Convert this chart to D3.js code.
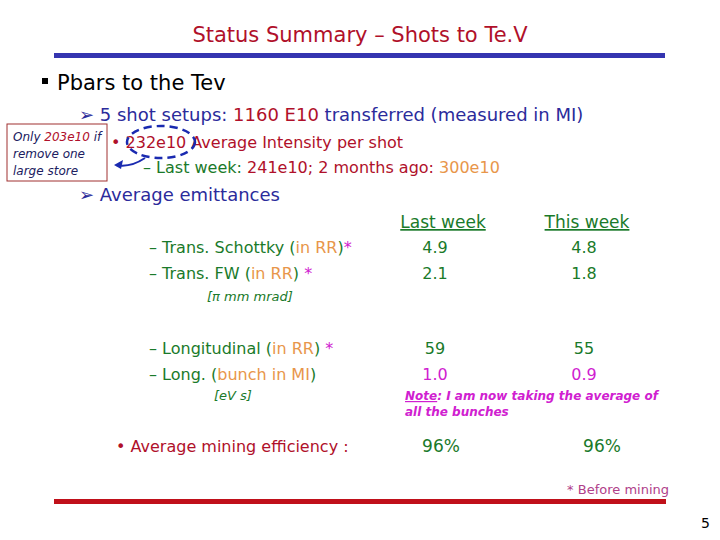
<!DOCTYPE html>
<html><head><meta charset="utf-8">
<script src="https://d3js.org/d3.v7.min.js"></script>
<style>body{margin:0;background:#fff}</style></head>
<body><svg id="s" width="720" height="540"></svg>
<script>
const title = "Status Summary – Shots to Te.V";
const columns = ["Last week", "This week"];
const rowLabels = ["Trans. Schottky", "Trans. FW", "Longitudinal", "Long."];
const lastWeek = ["4.9", "2.1", "59", "1.0"];
const thisWeek = ["4.8", "1.8", "55", "0.9"];
const efficiency = ["96%", "96%"];

const svg = d3.select("#s");
const F = "'DejaVu Sans', sans-serif";
const DB = "#2b2b9b", RED = "#b0102a", GRN = "#1a7a2a", ORG = "#e8964a", MAG = "#d020d0";
function t(x, y, parts, size, opts = {}) {
  const el = svg.append("text").attr("x", x).attr("y", y).attr("font-family", F)
    .attr("font-size", size).attr("font-style", opts.italic ? "italic" : null)
    .attr("font-weight", opts.bold ? "bold" : null).attr("text-anchor", opts.anchor || "start");
  parts.forEach(([s, c, u]) => el.append("tspan").text(s).attr("fill", c).attr("text-decoration", u ? "underline" : null));
  return el;
}
t(360, 42, [[title, RED]], 21, {anchor: "middle"});
svg.append("rect").attr("x", 54).attr("y", 53).attr("width", 611).attr("height", 5).attr("fill", "#3535b0");
svg.append("rect").attr("x", 42).attr("y", 78).attr("width", 6).attr("height", 6).attr("fill", "#000");
t(57, 90, [["Pbars to the Tev", "#000"]], 21);
t(79, 121, [["➢ 5 shot setups: ", DB], ["1160 E10", RED], [" transferred (measured in MI)", DB]], 18);
t(111, 148, [["• ", RED], ["232e10 Average Intensity per shot", RED]], 16);
t(143, 173, [["– Last week: ", GRN], ["241e10; 2 months ago: ", RED], ["300e10", ORG]], 16);
t(79, 201, [["➢ Average emittances", DB]], 18);
svg.append("rect").attr("x", 7).attr("y", 124).attr("width", 100).attr("height", 57).attr("fill", "none").attr("stroke", "#a03030");
t(13, 141, [["Only ", "#202060"], ["203e10", RED], [" if", "#202060"]], 12, {italic: true});
t(13, 158, [["remove one", "#202060"]], 12, {italic: true});
t(13, 175, [["large store", "#202060"]], 12, {italic: true});
svg.append("ellipse").attr("cx", 161).attr("cy", 142).attr("rx", 34).attr("ry", 16)
  .attr("fill", "none").attr("stroke", "#1a2ab0").attr("stroke-width", 2.5).attr("stroke-dasharray", "8,5");
svg.append("path").attr("d", "M145,158 Q130,168 116,165").attr("fill", "none").attr("stroke", "#1a2ab0").attr("stroke-width", 2);
svg.append("path").attr("d", "M114,165 L123,160 L121,169 Z").attr("fill", "#1a2ab0");

const colX = d3.scalePoint().domain(columns).range([443, 587]);
columns.forEach(c => t(colX(c), 228, [[c, GRN, true]], 17, {anchor: "middle"}));
const rowY = d3.scaleOrdinal().domain(rowLabels).range([253, 279, 354, 380]);
const rowParts = [
  [["–  Trans. Schottky (", GRN], ["in RR", ORG], [")", GRN], ["*", MAG]],
  [["–  Trans. FW (", GRN], ["in RR", ORG], [") ", GRN], ["*", MAG]],
  [["–  Longitudinal (", GRN], ["in RR", ORG], [") ", GRN], ["*", MAG]],
  [["–  Long.  (", GRN], ["bunch in MI", ORG], [")", GRN]]
];
rowLabels.forEach((r, i) => {
  t(149, rowY(r), rowParts[i], 16);
  t(435, rowY(r), [[lastWeek[i], i < 3 ? GRN : MAG]], 16, {anchor: "middle"});
  t(584, rowY(r), [[thisWeek[i], i < 3 ? GRN : MAG]], 16, {anchor: "middle"});
});
t(207, 301, [["[π mm mrad]", GRN]], 13, {italic: true});
t(214, 400, [["[eV s]", GRN]], 13, {italic: true});
t(405, 400, [["Note", MAG, true], [": I am now taking the average of", MAG]], 12, {italic: true, bold: true});
t(405, 416, [["all the bunches", MAG]], 12, {italic: true, bold: true});
t(116, 452, [["•  Average mining efficiency :", RED]], 16);
t(441, 452, [[efficiency[0], GRN]], 17, {anchor: "middle"});
t(602, 452, [[efficiency[1], GRN]], 17, {anchor: "middle"});
t(669, 494, [["* Before mining", "#b0408a"]], 13, {anchor: "end"});
svg.append("rect").attr("x", 54).attr("y", 499).attr("width", 612).attr("height", 5).attr("fill", "#c0101a");
t(710, 528, [["5", "#000"]], 14, {anchor: "end"});
</script></body></html>
